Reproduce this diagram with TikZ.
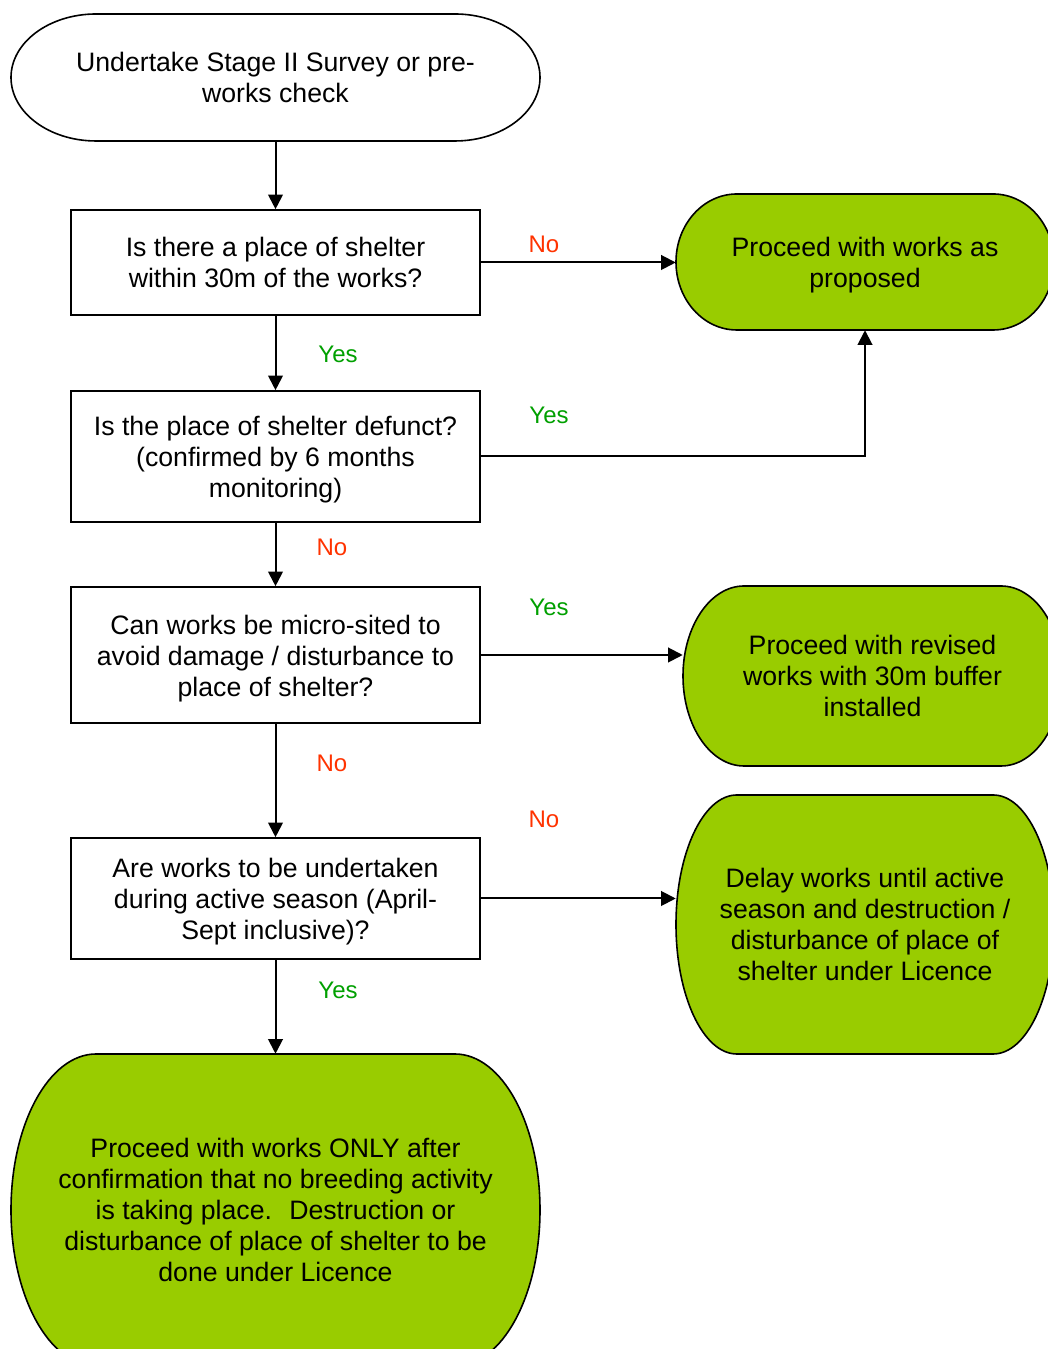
\documentclass[tikz,border=0pt]{standalone}
\usepackage{fontspec}
\setmainfont{Liberation Sans}
\usetikzlibrary{arrows.meta}
\definecolor{termgreen}{HTML}{99CC00}
\definecolor{nored}{HTML}{FF3300}
\definecolor{yesgreen}{HTML}{00A000}
\tikzset{
  shapeline/.style={draw=black, line width=1.2pt},
  qbox/.style={shapeline, rectangle, inner sep=0pt, fill=white},
  boxtext/.style={inner sep=0pt, align=center},
  conn/.style={line width=1.5pt, -{Triangle[length=11pt,width=11pt]}},
  lblno/.style={text=nored, font=\fontsize{18}{21}\selectfont, inner sep=0pt},
  lblyes/.style={text=yesgreen, font=\fontsize{18}{21}\selectfont, inner sep=0pt},
}
% terminator: [text offset], name, cx, cy, w, h, fill, text
\newcommand\termshape[8][0]{%
  \pgfmathsetmacro\trx{0.1609*#5}%
  \pgfmathsetmacro\trxpt{0.1609*#5*0.75}%
  \pgfmathsetmacro\trypt{#6*0.375}%
  \path[shapeline, fill=#7] ({#3-#5/2+\trx},{#4+#6/2}) -- ({#3+#5/2-\trx},{#4+#6/2})
     arc[start angle=90, end angle=-90, x radius=\trxpt pt, y radius=\trypt pt]
     -- ({#3-#5/2+\trx},{#4-#6/2})
     arc[start angle=270, end angle=90, x radius=\trxpt pt, y radius=\trypt pt] -- cycle;
  \node[inner sep=0pt, minimum width=#5*0.75pt, minimum height=#6*0.75pt] (#2) at (#3,#4) {};
  \node[boxtext] (#2-text) at (#3,{#4-#1}) {#8};
}
% question box: [text offset], name, cx, cy, w, h, text
\newcommand\qnode[7][0]{%
  \node[qbox, minimum width=#5*0.75pt, minimum height=#6*0.75pt] (#2) at (#3,#4) {};
  \node[boxtext] (#2-text) at (#3,{#4-#1}) {#7};
}
\begin{document}
\begin{tikzpicture}[x=0.75pt, y=0.75pt, font=\fontsize{20}{23.25}\selectfont]
\useasboundingbox (0,0) rectangle (1048,1349);
\fill[white] (0,0) rectangle (1048,1349);
\clip (0,0) rectangle (1048,1349);

\termshape{start}{275.5}{1271.5}{529}{127}{white}{Undertake Stage II Survey or pre-\\works check}
\qnode{q1}{275.5}{1086.5}{409}{105}{Is there a place of shelter\\within 30m of the works?}
\qnode[3]{q2}{275.5}{892.5}{409}{131}{Is the place of shelter defunct?\\(confirmed by 6 months\\monitoring)}
\qnode[3.5]{q3}{275.5}{694}{409}{136}{Can works be micro-sited to\\avoid damage / disturbance to\\place of shelter?}
\qnode[3]{q4}{275.5}{450.5}{409}{121}{Are works to be undertaken\\during active season (April-\\Sept inclusive)?}

\termshape[3]{g1}{865}{1087}{378}{136}{termgreen}{Proceed with works as\\proposed}
\termshape{g2}{872.5}{673}{379}{180}{termgreen}{Proceed with revised\\works with 30m buffer\\installed}
\termshape{g3}{865}{424.5}{378}{259}{termgreen}{Delay works until active\\season and destruction /\\disturbance of place of\\shelter under Licence}
\termshape{g4}{275.5}{139}{529}{312}{termgreen}{Proceed with works ONLY after\\confirmation that no breeding activity\\is taking place.~ Destruction or\\disturbance of place of shelter to be\\done under Licence}

\draw[conn] (start.south) -- (q1.north);
\draw[conn] (q1.east) -- (q1.east -| g1.west);
\draw[conn] (q1.south) -- (q2.north);
\draw[conn] (q2.east) -| (g1.south);
\draw[conn] (q2.south) -- (q3.north);
\draw[conn] (q3.east) -- (q3.east -| g2.west);
\draw[conn] (q3.south) -- (q4.north);
\draw[conn] (q4.east) -- (q4.east -| g3.west);
\draw[conn] (q4.south) -- (g4.north);

\node[lblno] (l1) at (544,1105) {No};
\node[lblyes] (l2) at (338,995) {Yes};
\node[lblyes] (l3) at (549,934) {Yes};
\node[lblno] (l4) at (332,802) {No};
\node[lblyes] (l5) at (549,742) {Yes};
\node[lblno] (l6) at (332,586) {No};
\node[lblno] (l7) at (544,530) {No};
\node[lblyes] (l8) at (338,359) {Yes};
\end{tikzpicture}
\end{document}
